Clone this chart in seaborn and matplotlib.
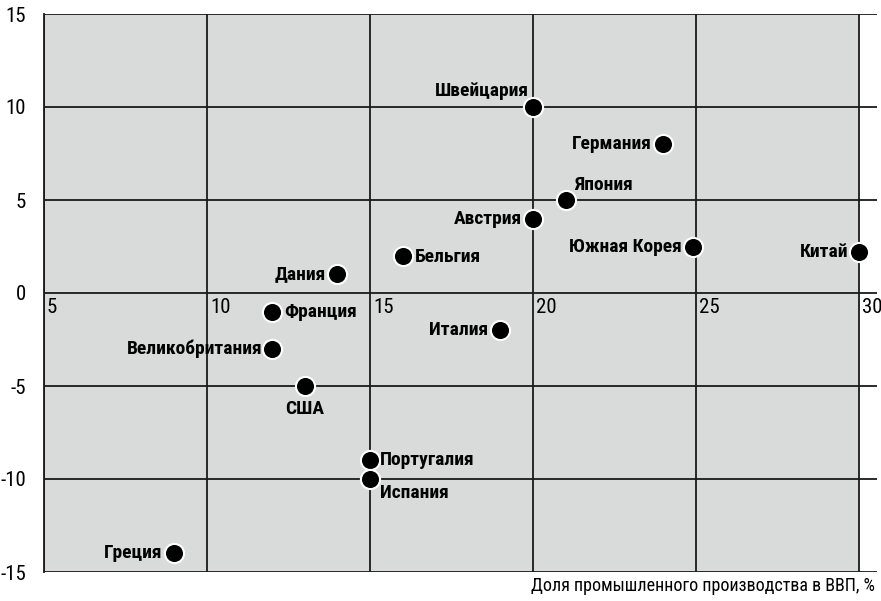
import matplotlib
matplotlib.use("Agg")
import matplotlib.pyplot as plt
from matplotlib import font_manager
import seaborn as sns
import pandas as pd

# Данные
countries = ['Швейцария', 'Германия', 'Япония', 'Австрия', 'Южная Корея', 'Китай',
             'Бельгия', 'Дания', 'Франция', 'Великобритания', 'США', 'Италия',
             'Португалия', 'Испания', 'Греция']
industry_share = [20, 24, 21, 20, 24.9, 30, 16, 14, 12, 12, 13, 19, 15, 15, 9]
y_values = [10, 8, 5, 4, 2.5, 2.2, 2, 1, -1, -3, -5, -2, -9, -10, -14]

x_ticks = [5, 10, 15, 20, 25, 30]
y_ticks = [-15, -10, -5, 0, 5, 10, 15]
x_label = 'Доля промышленного производства в ВВП, %'

# где ставить подписи: (dx, dy в пикселях, ha)
label_pos = {
    'Швейцария': (-4, 16, 'right'),
    'Германия': (-12, 0, 'right'),
    'Япония': (9, 15, 'left'),
    'Австрия': (-11, 0, 'right'),
    'Южная Корея': (-11, 0, 'right'),
    'Китай': (-11, 0, 'right'),
    'Бельгия': (12, -1, 'left'),
    'Дания': (-12, 0, 'right'),
    'Франция': (12, 0, 'left'),
    'Великобритания': (-10, 0, 'right'),
    'США': (0, -23, 'center'),
    'Италия': (-12, 0, 'right'),
    'Португалия': (10, 0, 'left'),
    'Испания': (10, -14, 'left'),
    'Греция': (-12, 0, 'right'),
}

df = pd.DataFrame({'country': countries, 'x': industry_share, 'y': y_values})

sns.set_style('white')

# узкий шрифт, если есть
installed = {f.name for f in font_manager.fontManager.ttflist}
narrow = [f for f in ['Liberation Sans Narrow', 'DejaVu Sans Condensed', 'Roboto Condensed',
                      'Roboto', 'DejaVu Sans'] if f in installed]
plt.rcParams['font.family'] = narrow + ['DejaVu Sans']
plt.rcParams['font.stretch'] = 'condensed'
plt.rcParams['text.color'] = 'black'

fig = plt.figure(figsize=(8.81, 6.01), dpi=100)
ax = fig.add_axes([44 / 881, 29 / 601, 833 / 881, 558 / 601])

ax.set_xlim(5, 30.55)
ax.set_ylim(-15, 15)
ax.axvspan(5, 30, color='#d9dada', zorder=0, lw=0)

ax.set_xticks(x_ticks)
ax.set_yticks(y_ticks)
ax.grid(True, color='#1a1a1a', linewidth=1.3, zorder=1)
ax.set_axisbelow(True)
for s in ['top', 'right', 'bottom']:
    ax.spines[s].set_visible(False)
ax.spines['left'].set_color('#1a1a1a')
ax.spines['left'].set_linewidth(1.3)

ax.tick_params(axis='x', length=0, labelbottom=False)
ax.tick_params(axis='y', length=11, width=1.3, color='#1a1a1a', labelsize=15, pad=2,
               labelcolor='black')
ax.set_yticklabels([str(v) for v in y_ticks])

# подписи оси X на линии нуля
for t in x_ticks:
    ax.annotate(str(t), (t, 0), xytext=(3, -5), textcoords='offset pixels',
                ha='left', va='top', fontsize=15, color='black')

sns.scatterplot(data=df, x='x', y='y', ax=ax, s=190, color='black',
                edgecolor='white', linewidth=1.5, zorder=3, clip_on=False, legend=False)

for name, xv, yv in zip(countries, industry_share, y_values):
    dx, dy, ha = label_pos[name]
    ax.annotate(name, (xv, yv), xytext=(dx, dy), textcoords='offset pixels',
                ha=ha, va='center', fontsize=14, fontweight='bold', color='black', zorder=4)

ax.set_xlabel('')
ax.set_ylabel('')
fig.text(875 / 881, 1 - 586 / 601, x_label, ha='right', va='center', fontsize=13,
         color='black')

fig.savefig('out.png', dpi=100)
